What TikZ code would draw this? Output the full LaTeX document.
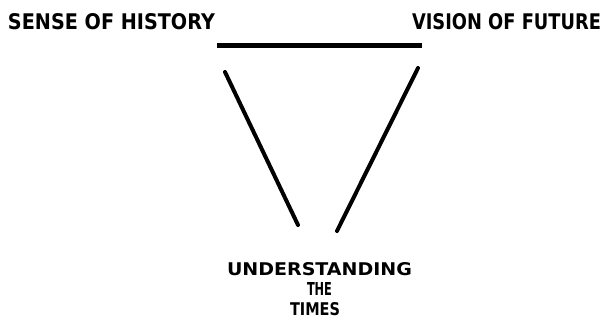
\documentclass[tikz,border=0pt]{standalone}
\usepackage{fontspec}
\setmainfont{DejaVu Sans}
\begin{document}
\begin{tikzpicture}[x=1pt,y=-1pt,
  lbl/.style={inner sep=0pt,outer sep=0pt,font=\bfseries},
  bar/.style={line width=5pt,line cap=butt},
  leg/.style={line width=4pt,line cap=round}]
\useasboundingbox (0,0) rectangle (608,325);
\fill[white] (0,0) rectangle (608,325);
\node[lbl,anchor=south west] (hist) at (8,29.5) {\resizebox{207pt}{16pt}{SENSE OF HISTORY}};
\node[lbl,anchor=south west] (fut) at (412,29.5) {\resizebox{189pt}{16pt}{VISION OF FUTURE}};
\node[lbl,anchor=south west] (und) at (227,275.5) {\resizebox{185pt}{13pt}{UNDERSTANDING}};
\node[lbl,anchor=south west] (the) at (307,295.5) {\resizebox{25pt}{13pt}{THE}};
\node[lbl,anchor=south west] (times) at (290,315.5) {\resizebox{50pt}{13pt}{TIMES}};
\coordinate (ha) at (217,45);
\coordinate (hb) at (422,45);
\coordinate (la) at (225,72);
\coordinate (lb) at (298,225);
\coordinate (ra) at (418,68);
\coordinate (rb) at (337,231);
\draw[bar] (ha) -- (hb);
\draw[leg] (la) -- (lb);
\draw[leg] (ra) -- (rb);
\end{tikzpicture}
\end{document}
